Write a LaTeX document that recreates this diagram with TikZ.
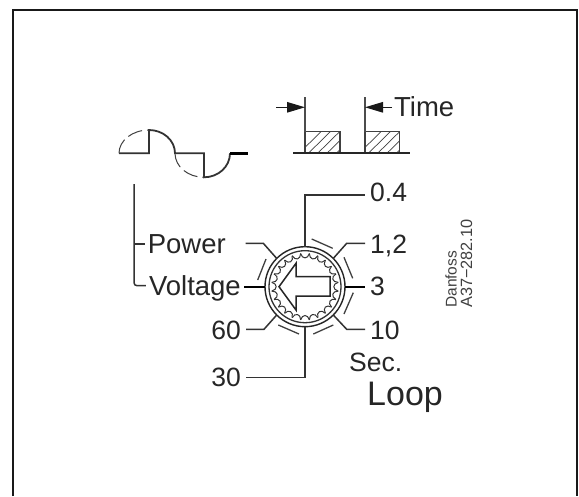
\documentclass[tikz,border=0pt]{standalone}
\usepackage{fontspec}
\setmainfont{Liberation Sans}
\usetikzlibrary{arrows.meta,calc}
\tikzset{
  lbl/.style={inner sep=5pt,text=black!85},
  lblw/.style={lbl,anchor=base west,font=\fontsize{26.5}{28}\selectfont},
  lble/.style={lbl,anchor=base east,font=\fontsize{26.5}{28}\selectfont},
  lblb/.style={lble,font=\fontsize{27.5}{29}\selectfont},
  wire/.style={line width=1.5pt,draw=black!80},
  thickwire/.style={line width=2pt,draw=black},
  tick/.style={line width=1.3pt,draw=black!75},
  wave/.style={line width=1.8pt,draw=black!80},
  wavedash/.style={line width=1pt,draw=black!75,dash pattern=on 15pt off 5pt},
  dim/.style={line width=1.1pt,draw=black!70},
  dimarrow/.style={dim,-{Triangle[length=18pt,width=10.5pt]},black!90},
  hatchline/.style={line width=.7pt,draw=black!75},
  pulse/.style={line width=1.3pt,draw=black!75},
  small/.style={inner sep=0pt,rotate=90,anchor=base west,text=black!75,font=\fontsize{15.5}{17}\selectfont},
}
\begin{document}
\begin{tikzpicture}[x=1pt,y=-1pt]
\useasboundingbox (0,0) rectangle (579,496);
\fill[white] (0,0) rectangle (579,496);
% frame
\draw[line width=2.6pt,draw=black!90] (13,496) -- (13,10) -- (577,10) -- (577,496);

% wave
\draw[wave] (119,153.3) -- (149,153.3) -- (149,130) arc[start angle=90,end angle=0,x radius=26,y radius=-23.3]
  -- (204,153.3) -- (204,177.3) arc[start angle=270,end angle=360,x radius=26,y radius=-24];
\draw[line width=2.4pt,draw=black] (230,153.3) -- (247.7,153.3);
\draw[wavedash] (119,153.3) arc[start angle=180,end angle=90,x radius=30,y radius=-23.3];
\draw[wavedash] (175,153.3) arc[start angle=180,end angle=270,x radius=29,y radius=-24];

% pulses
\foreach \xa/\xb in {305/340,365/399.3}{
  \begin{scope}
    \clip (\xa,131.7) rectangle (\xb,153.3);
    \foreach \k in {0,...,6}{
      \draw[hatchline] (\xa+\k*9.3-6,153.3) -- (\xa+\k*9.3+16,131.7);
    }
  \end{scope}
  \draw[pulse] (\xa,153.3) -- (\xa,131.7) -- (\xb,131.7) -- (\xb,153.3);
}
\draw[line width=2pt,draw=black!85] (293.3,153.3) -- (410,153.3);
\coordinate (t1) at (305,97.3);
\coordinate (t2) at (365,97.3);
\draw[dim] (t1) -- (305,131.7);
\draw[dim] (t2) -- (365,131.7);
\coordinate (a1) at (276,107.3);
\coordinate (a2) at (392,107.3);
\draw[dimarrow] (a1) -- (t1 |- a1);
\draw[dimarrow] (a2) -- (t2 |- a2);
\node[lblw,inner sep=0pt,font=\fontsize{27.5}{29}\selectfont] (ltime) at (394,116.7) {Time};

% dial
\node[circle,draw=black!85,line width=1.4pt,minimum size=80pt,inner sep=0pt,outer sep=0pt] (dial) at (305,286.7) {};
\draw[line width=1.3pt,draw=black!80] (dial.center) circle[radius=36];
\foreach \i in {0,...,23}{
  \pgfmathsetmacro{\aa}{90+7.5+15*\i}
  \pgfmathsetmacro{\ab}{\aa+15}
  \draw[line width=1pt,draw=black!80]
    ($(dial.center)+(\aa:33.5)$) .. controls ($(dial.center)+(\aa+1.5:27.5)$) and ($(dial.center)+(\ab-1.5:27.5)$) .. ($(dial.center)+(\ab:33.5)$);
}
% arrow
\draw[line width=1.5pt,draw=black!85,line join=miter] (279,286.7) -- (296,263.3) -- (296,276.7) -- (330,276.7) -- (330,296) -- (296,296) -- (296,310) -- cycle;

% outer ticks
\draw[tick] (311.7,239) -- (332.7,248.3);
\draw[tick] (344,257.3) -- (352.7,278.3);
\draw[tick] (353.3,292.7) -- (344,314);
\draw[tick] (313.3,334) -- (333.3,325);
\draw[tick] (278.3,325) -- (299,334);
\draw[tick] (257.7,280) -- (266,259);

% labels
\node[lblw] (l04) at (365,201.7) {0.4};
\node[lblw] (l12) at (365,253) {1,2};
\node[lblw] (l3) at (365,295) {3};
\node[lblw] (l10) at (365,339) {10};
\node[lble] (l60) at (246,339) {60};
\node[lble] (l30) at (246,386) {30};
\node[lblb,inner sep=3pt] (lpower) at (229,253) {Power};
\node[lblb,inner sep=3pt] (lvolt) at (244,295) {Voltage};
\node[lblw,inner sep=0pt] (lsec) at (349,371) {Sec.};
\node[lbl,inner sep=0pt,anchor=base west,font=\fontsize{34}{36}\selectfont] (lloop) at (367,405) {Loop};
\node[small] (ldan) at (456.7,308) {Danfoss};
\node[small,font=\fontsize{16.3}{17}\selectfont] (lcode) at (472,308) {A37−282.10};

% connectors
\coordinate (e04) at (365,195);
\coordinate (e12) at (346.7,243.3);
\coordinate (e3) at (365,286.7);
\coordinate (e10) at (346.7,329.3);
\coordinate (e30) at (245,377.3);
\coordinate (e60) at (264,329.3);
\coordinate (epw) at (263.3,243.3);
\coordinate (epw2) at (245.7,243.3);
\coordinate (tv) at (134,285.7);
\coordinate (tp) at (134,244);
\draw[wire] (dial.north) |- (e04 -| l04.west);
\draw[wire] (dial.north east) -- (e12) -- (e12 -| l12.west);
\draw[thickwire] (dial.east) -- (e3 -| l3.west);
\draw[wire] (dial.south east) -- (e10) -- (e10 -| l10.west);
\draw[wire] (dial.south) |- (e30 -| l30.east);
\draw[wire] (dial.south west) -- (e60) -- (e60 -| l60.east);
\draw[wire] (dial.north west) -- (epw) -- (epw2);
\draw[thickwire] (dial.west) -- (lvolt.east |- dial.west);

% tree
\coordinate (w1) at (134,184);
\draw[wire,rounded corners=3pt] (w1) -- (tv) -- (lvolt.west |- tv);
\draw[wire] (tp) -- (lpower.west |- tp);
\end{tikzpicture}
\end{document}
